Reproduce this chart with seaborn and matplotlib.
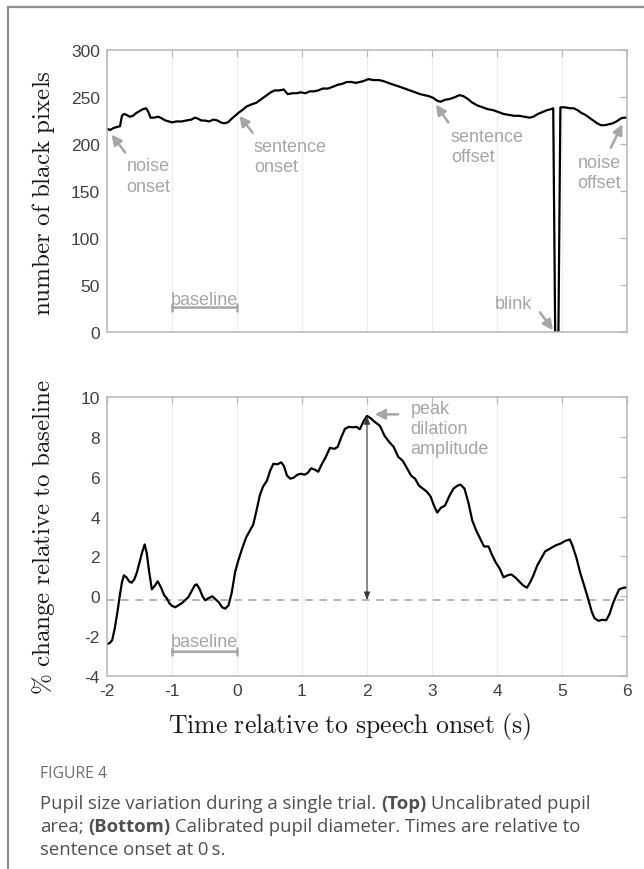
import numpy as np
import pandas as pd
import matplotlib
matplotlib.use("Agg")
import matplotlib.pyplot as plt
import seaborn as sns
from matplotlib.lines import Line2D

# ---------------- data ----------------
t_top = [-2.00, -1.95, -1.90, -1.85, -1.80, -1.77, -1.74, -1.70, -1.65, -1.60, -1.55, -1.50,
         -1.45, -1.40, -1.37, -1.33, -1.28, -1.21, -1.15, -1.10, -1.05, -1.00, -0.93, -0.85,
         -0.78, -0.70, -0.65, -0.60, -0.55, -0.50, -0.43, -0.36, -0.30, -0.25, -0.20, -0.14,
         -0.08, -0.03, 0.02, 0.08, 0.15, 0.22, 0.30, 0.38, 0.46, 0.52, 0.58, 0.65, 0.72, 0.78,
         0.85, 0.92, 0.98, 1.05, 1.12, 1.18, 1.25, 1.32, 1.40, 1.48, 1.55, 1.62, 1.69, 1.76,
         1.83, 1.89, 1.95, 2.02, 2.10, 2.18, 2.25, 2.33, 2.41, 2.50, 2.58, 2.66, 2.74, 2.82,
         2.88, 2.95, 3.02, 3.08, 3.13, 3.20, 3.28, 3.36, 3.42, 3.48, 3.55, 3.62, 3.70, 3.78,
         3.86, 3.94, 4.02, 4.10, 4.18, 4.26, 4.34, 4.42, 4.50, 4.56, 4.63, 4.70, 4.77, 4.83,
         4.865, 4.895, 4.945, 4.975, 5.00, 5.05, 5.12, 5.18, 5.24, 5.30, 5.36, 5.42, 5.48,
         5.54, 5.60, 5.66, 5.72, 5.78, 5.84, 5.90, 5.95, 6.00]
pixels_top = [216, 215, 217, 218, 219, 230, 232, 231, 229, 230, 233, 235,
              237, 238, 235, 228, 228, 229, 227, 225, 224, 223, 224, 224,
              225, 226, 228, 227, 225, 225, 224, 226, 225, 223, 222, 223,
              227, 230, 233, 236, 240, 242, 244, 248, 252, 255, 257, 257, 258, 253,
              254, 254, 255, 254, 256, 256, 257, 259, 259, 261, 263, 264, 266, 266,
              265, 266, 267, 269, 268, 268, 267, 265, 263, 261, 259, 257, 255, 253,
              252, 251, 249, 246, 245, 247, 248, 250, 252, 251, 248, 244, 241, 239,
              237, 236, 234, 232, 231, 230, 230, 229, 228, 229, 232, 234, 236, 237,
              238, 0, 0, 239, 239, 239, 238, 238, 236, 233, 231, 228, 225,
              222, 220, 220, 221, 222, 224, 227, 228, 228]

t_bot = [-2.00, -1.96, -1.92, -1.88, -1.84, -1.80, -1.77, -1.74, -1.70, -1.66, -1.62, -1.58,
         -1.54, -1.50, -1.46, -1.42, -1.39, -1.35, -1.31, -1.27, -1.22, -1.17, -1.12, -1.08,
         -1.04, -1.00, -0.95, -0.90, -0.85, -0.80, -0.75, -0.70, -0.65, -0.62, -0.58, -0.53,
         -0.49, -0.44, -0.38, -0.33, -0.28, -0.23, -0.18, -0.13, -0.08, -0.03, 0.02, 0.08,
         0.14, 0.20, 0.25, 0.30, 0.35, 0.40, 0.46, 0.51, 0.56, 0.62, 0.68, 0.72, 0.77, 0.82,
         0.87, 0.93, 0.98, 1.04, 1.09, 1.14, 1.20, 1.25, 1.30, 1.36, 1.43, 1.50, 1.55, 1.60,
         1.66, 1.72, 1.78, 1.84, 1.89, 1.95, 2.00, 2.05, 2.12, 2.20, 2.27, 2.34, 2.41, 2.48,
         2.55, 2.62, 2.68, 2.74, 2.80, 2.86, 2.92, 2.98, 3.03, 3.08, 3.14, 3.20, 3.27, 3.33,
         3.39, 3.44, 3.50, 3.56, 3.62, 3.68, 3.74, 3.80, 3.87, 3.92, 3.98, 4.04, 4.10, 4.16,
         4.22, 4.28, 4.34, 4.40, 4.46, 4.51, 4.56, 4.62, 4.68, 4.74, 4.82, 4.90, 4.98, 5.05,
         5.12, 5.16, 5.22, 5.28, 5.34, 5.40, 5.46, 5.50, 5.56, 5.62, 5.68, 5.73, 5.78, 5.82,
         5.88, 5.94, 6.00]
pct_bot = [-2.40, -2.35, -2.20, -1.60, -0.80, 0.10, 0.70, 1.05, 0.95, 0.75, 0.68, 0.85,
           1.20, 1.70, 2.20, 2.60, 2.20, 1.20, 0.35, 0.50, 0.75, 0.45, 0.05, -0.10,
           -0.35, -0.48, -0.55, -0.45, -0.35, -0.20, -0.05, 0.25, 0.55, 0.60, 0.40, 0.00,
           -0.20, -0.10, 0.00, -0.15, -0.30, -0.55, -0.62, -0.45, 0.20, 1.20, 1.80, 2.40,
           2.95, 3.30, 3.60, 4.30, 5.05, 5.50, 5.80, 6.30, 6.65, 6.62, 6.72, 6.55, 6.05, 5.90,
           5.95, 6.10, 6.15, 6.10, 6.20, 6.42, 6.35, 6.25, 6.60, 6.95, 7.45, 7.40, 7.50, 7.95,
           8.40, 8.50, 8.48, 8.50, 8.38, 8.80, 9.05, 8.95, 8.75, 8.55, 8.05, 7.75, 7.50, 7.00,
           6.80, 6.40, 6.05, 5.90, 5.55, 5.40, 5.25, 5.00, 4.55, 4.20, 4.45, 4.55, 5.05, 5.40,
           5.55, 5.60, 5.40, 4.70, 3.80, 3.30, 2.90, 2.50, 2.50, 2.10, 1.70, 1.40, 0.95, 1.05,
           1.10, 0.95, 0.75, 0.55, 0.43, 0.70, 1.05, 1.55, 1.90, 2.25, 2.40, 2.55, 2.65, 2.78,
           2.85, 2.55, 1.95, 1.18, 0.55, -0.10, -0.80, -1.10, -1.23, -1.18, -1.20, -0.90, -0.40, -0.07,
           0.35, 0.42, 0.45]

x_ticks = [-2, -1, 0, 1, 2, 3, 4, 5, 6]
y_ticks_top = [0, 50, 100, 150, 200, 250, 300]
y_ticks_bot = [-4, -2, 0, 2, 4, 6, 8, 10]
baseline_level = -0.2
peak_time = 2.0
peak_value = 9.05

df_top = pd.DataFrame({"time": t_top, "pixels": pixels_top})
df_bot = pd.DataFrame({"time": t_bot, "pct": pct_bot})

# ---------------- style ----------------
sns.set_theme(style="white")
plt.rcParams["font.family"] = ["Liberation Sans", "DejaVu Sans"]
plt.rcParams["mathtext.fontset"] = "cm"
plt.rcParams["axes.unicode_minus"] = False

W, H = 644, 870
fig = plt.figure(figsize=(W / 100, H / 100), dpi=100)
fig.patch.set_facecolor("white")

def fx(px):
    return px / W

def fy(py):
    return 1 - py / H

L, R = 107, 627
ax1 = fig.add_axes([fx(L), fy(333), fx(R - L), (333 - 51) / H])
ax2 = fig.add_axes([fx(L), fy(677), fx(R - L), (677 - 398) / H])

SPINE = "#b8b8b8"
ANN = "#a6a6a6"
TICKLAB = "#404040"

def style(ax):
    ax.set_facecolor("white")
    for s in ax.spines.values():
        s.set_visible(True)
        s.set_color(SPINE)
        s.set_linewidth(1.1)
    ax.tick_params(direction="in", top=True, right=True, length=5, width=0.9,
                   color=SPINE, labelcolor=TICKLAB, labelsize=12.5, pad=5)
    ax.xaxis.grid(True, color="#ededed", lw=0.8)
    ax.yaxis.grid(False)
    ax.set_axisbelow(True)
    ax.set_xlim(-2, 6)
    ax.set_xticks(x_ticks)

style(ax1)
style(ax2)

sns.lineplot(data=df_top, x="time", y="pixels", ax=ax1, color="black", lw=1.6,
             estimator=None, sort=False)
sns.lineplot(data=df_bot, x="time", y="pct", ax=ax2, color="black", lw=1.6,
             estimator=None, sort=False)

ax1.set_ylim(0, 300)
ax1.set_yticks(y_ticks_top)
ax1.set_xticklabels([])
ax1.set_xlabel("")
ax1.set_ylabel("")

ax2.set_ylim(-4, 10)
ax2.set_yticks(y_ticks_bot)
ax2.set_xticklabels([str(v) for v in x_ticks])
ax2.set_xlabel("")
ax2.set_ylabel("")

# ---------------- annotations (top) ----------------
akw = dict(arrowstyle="-|>,head_length=0.5,head_width=0.25", color=ANN, lw=1.8,
           shrinkA=0, shrinkB=0)
tkw = dict(color=ANN, fontsize=13, ha="left", va="center", linespacing=1.25)

ax1.annotate("", xy=(-1.93, 210), xytext=(-1.72, 191), arrowprops=akw)
ax1.text(-1.70, 166, "noise\nonset", **tkw)
ax1.annotate("", xy=(0.035, 230), xytext=(0.24, 212), arrowprops=akw)
ax1.text(0.26, 187, "sentence\nonset", **tkw)
ax1.annotate("", xy=(3.06, 242), xytext=(3.25, 223), arrowprops=akw)
ax1.text(3.29, 197, "sentence\noffset", **tkw)
ax1.annotate("", xy=(5.93, 221), xytext=(5.75, 196), arrowprops=akw)
ax1.text(5.24, 170, "noise\noffset", **tkw)
ax1.annotate("", xy=(4.86, 2), xytext=(4.66, 21), arrowprops=akw)
ax1.text(3.97, 30, "blink", **tkw)
ax1.annotate("", xy=(-1, 26), xytext=(0, 26),
             arrowprops=dict(arrowstyle="|-|,widthA=0.22,widthB=0.22", color=ANN, lw=1.8,
                             shrinkA=0, shrinkB=0))
ax1.text(-0.5, 35, "baseline", color=ANN, fontsize=13, ha="center", va="center")

# ---------------- annotations (bottom) ----------------
ax2.axhline(baseline_level, color="#a8a8a8", lw=1.2, ls=(0, (4.5, 4)), zorder=1)
ax2.annotate("", xy=(peak_time, peak_value), xytext=(peak_time, baseline_level),
             arrowprops=dict(arrowstyle="<|-|>,head_length=0.4,head_width=0.15",
                             color="#3a3a3a", lw=0.8, shrinkA=0, shrinkB=0))
ax2.annotate("", xy=(2.12, 9.13), xytext=(2.48, 9.13), arrowprops=akw)
ax2.text(2.67, 8.43, "peak\ndilation\namplitude", **tkw)
ax2.annotate("", xy=(-1, -2.78), xytext=(0, -2.78),
             arrowprops=dict(arrowstyle="|-|,widthA=0.22,widthB=0.22", color=ANN, lw=1.8,
                             shrinkA=0, shrinkB=0))
ax2.text(-0.5, -2.25, "baseline", color=ANN, fontsize=13, ha="center", va="center")

# ---------------- axis labels (LaTeX-like serif) ----------------
fig.text(fx(44), fy(193), r"$\mathrm{number\ of\ black\ pixels}$", rotation=90,
         ha="center", va="center", fontsize=18, color="#1a1a1a")
fig.text(fx(44), fy(537), r"$\%\ \mathrm{change\ relative\ to\ baseline}$", rotation=90,
         ha="center", va="center", fontsize=18, color="#1a1a1a")
fig.text(fx(350), fy(727), r"$\mathrm{Time\ relative\ to\ speech\ onset\ (s)}$",
         ha="center", va="center", fontsize=18.5, color="#1a1a1a")

# ---------------- caption ----------------
CAPF = ["Open Sans", "DejaVu Sans"]
fig.text(fx(40), fy(774), "FIGURE 4", fontsize=11.3, color="#6e6e6e", family=CAPF,
         ha="left", va="center")

renderer = fig.canvas.get_renderer()

def text_w(s, weight, size):
    t = fig.text(0, 0, s, fontsize=size, fontweight=weight, family=CAPF)
    w = t.get_window_extent(renderer=renderer).width
    t.remove()
    return w

def rich_line(x_px, y_px, parts, size=13.3, color="#4f4f4f"):
    space = text_w("a a", "normal", size) - text_w("aa", "normal", size)
    cx = x_px
    for s, wgt in parts:
        fig.text(fx(cx), fy(y_px), s, fontsize=size, fontweight=wgt, family=CAPF,
                 color=color, ha="left", va="center")
        cx += text_w(s, wgt, size) + space

rich_line(40, 804, [("Pupil size variation during a single trial.", "normal"),
                    ("(Top)", "bold"), ("Uncalibrated pupil", "normal")])
rich_line(40, 827, [("area;", "normal"), ("(Bottom)", "bold"),
                    ("Calibrated pupil diameter. Times are relative to", "normal")])
rich_line(40, 850, [("sentence onset at 0\u2009s.", "normal")])

# ---------------- outer frame ----------------
fig.add_artist(Line2D([fx(7.5), fx(7.5)], [0, fy(8)], transform=fig.transFigure,
                      color="#8c8c8c", lw=1.6))
fig.add_artist(Line2D([fx(7.5), 1], [fy(8), fy(8)], transform=fig.transFigure,
                      color="#8c8c8c", lw=1.6))

fig.savefig("out.png", dpi=100, facecolor="white")
